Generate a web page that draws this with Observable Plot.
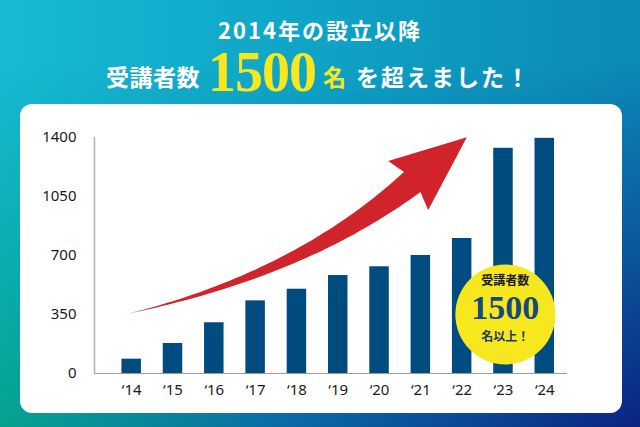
<!DOCTYPE html>
<html>
<head>
<meta charset="utf-8">
<script src="https://cdn.jsdelivr.net/npm/d3@7"></script>
<script src="https://cdn.jsdelivr.net/npm/@observablehq/plot@0.6"></script>
<style>
  html, body { margin: 0; padding: 0; }
  body { width: 640px; height: 427px; overflow: hidden; }
  #page { position: relative; width: 640px; height: 427px; overflow: hidden;
    background: linear-gradient(to right, #17b9d4 0%, #0fa3c6 50%, #0b8ab5 100%); }
  #overlay { position: absolute; inset: 0;
    background: linear-gradient(to right, #05a38f 0%, #0a6aa5 45%, #0b2382 100%);
    -webkit-mask-image: linear-gradient(to bottom, rgba(0,0,0,0) 15%, rgba(0,0,0,1) 100%);
    mask-image: linear-gradient(to bottom, rgba(0,0,0,0) 15%, rgba(0,0,0,1) 100%); }
  .t { position: absolute; white-space: nowrap; line-height: 1; font-weight: 700;
    font-family: "Noto Sans CJK JP", "Noto Sans", sans-serif; }
  #card { position: absolute; left: 20px; top: 104px; width: 602px; height: 309px;
    background: #fff; border-radius: 12px; }
  #chart { position: absolute; left: 20px; top: 104px; }
</style>
</head>
<body>
<div id="page">
  <div id="overlay"></div>
  <div class="t" style="left:0; width:640px; text-align:center; top:18px; font-size:22px; letter-spacing:2px; color:#fff;">2014年の設立以降</div>
  <div class="t" style="left:106px; top:65px; font-size:23px; letter-spacing:0.5px; color:#fff;">受講者数</div>
  <div class="t" style="left:208px; top:44px; font-size:56px; letter-spacing:-1px; color:#f6e71f; font-family:'Liberation Serif', serif;">1500</div>
  <div class="t" style="left:323px; top:65px; font-size:23px; color:#f6e71f;">名</div>
  <div class="t" style="left:356px; top:65px; font-size:23px; letter-spacing:2px; color:#fff;">を超えました！</div>
  <div id="card"></div>
  <div id="chart"></div>
</div>
<script>
// ---- data ----
const years = [2014, 2015, 2016, 2017, 2018, 2019, 2020, 2021, 2022, 2023, 2024];
const students = [85, 178, 301, 431, 500, 581, 633, 700, 801, 1336, 1395];
const yTicks = [0, 350, 700, 1050, 1400];
const xTickLabels = ["‘14", "‘15", "‘16", "‘17", "‘18", "‘19", "‘20", "‘21", "‘22", "‘23", "‘24"];

// decorative arrow, anchor points in data units [year, students]
const arrowTail = [2013.775, 344];
const arrowBend = [2018.011, 572];
const arrowNeck = [2020.802, 1133];
const arrowTip = [2022.126, 1398];
const arrowBarbLeft = [2020.221, 1258];
const arrowBarbRight = [2021.19, 967];
const arrowNeckWidth = 26;

// badge
const badgeYear = 2023.046;
const badgeValue = 350;
const badgeLines = ["受講者数", "1500", "名以上！"];

const bars = years.map((year, i) => ({year, value: students[i]}));
const badge = [{year: badgeYear, value: badgeValue}];

function arrowMark(index, scales) {
  const {x, y} = scales;
  const P = p => [x(p[0]), y(p[1])];
  const p0 = P(arrowTail), p1 = P(arrowBend), p2 = P(arrowNeck);
  const upper = [], lower = [];
  const n = 60;
  for (let k = 0; k <= n; k++) {
    const t = k / n, u = 1 - t;
    const bx = u * u * p0[0] + 2 * u * t * p1[0] + t * t * p2[0];
    const by = u * u * p0[1] + 2 * u * t * p1[1] + t * t * p2[1];
    const dx = 2 * u * (p1[0] - p0[0]) + 2 * t * (p2[0] - p1[0]);
    const dy = 2 * u * (p1[1] - p0[1]) + 2 * t * (p2[1] - p1[1]);
    const len = Math.hypot(dx, dy);
    const nx = dy / len, ny = -dx / len;
    const w = arrowNeckWidth / 2 * Math.pow(t, 1.3);
    upper.push([bx + nx * w, by + ny * w]);
    lower.push([bx - nx * w, by - ny * w]);
  }
  const pts = [...lower, P(arrowBarbRight), P(arrowTip), P(arrowBarbLeft), ...upper.reverse()];
  const g = d3.create("svg:g");
  g.append("path")
    .attr("d", "M" + pts.map(p => p[0].toFixed(2) + "," + p[1].toFixed(2)).join("L") + "Z")
    .attr("fill", "#d0232a");
  return g.node();
}

const chart = Plot.plot({
  width: 600,
  height: 309,
  marginLeft: 74,
  marginRight: 53,
  marginTop: 33,
  marginBottom: 40,
  style: {fontFamily: "'Noto Sans', sans-serif", fontSize: "15px", color: "#1a1a1a", background: "transparent"},
  x: {type: "linear", domain: [2013.1, 2024.55], axis: null},
  y: {domain: [0, 1400], axis: null},
  marks: [
    Plot.axisY(yTicks, {tickSize: 0, tickPadding: 18, label: null, fontSize: 15, tickFormat: d => String(d)}),
    Plot.axisX(years, {tickSize: 0, tickPadding: 11, label: null, fontSize: 15,
      tickFormat: d => xTickLabels[years.indexOf(d)]}),
    Plot.rectY(bars, {x1: d => d.year - 0.236, x2: d => d.year + 0.236, y: "value", fill: "#004b80"}),
    Plot.ruleX([2013.1], {y1: 0, y2: 1400, stroke: "#b3b3b3", strokeWidth: 1.5}),
    Plot.ruleY([0], {stroke: "#9c9c9c", strokeWidth: 1.2}),
    arrowMark,
    Plot.dot(badge, {x: "year", y: "value", r: 50, fill: "#f6e71f", stroke: "none"}),
    Plot.text(badge, {x: "year", y: "value", text: () => badgeLines[0], dy: -33, fontSize: 12,
      fontWeight: 700, fill: "#1a1a1a", fontFamily: "'Noto Sans CJK JP', sans-serif"}),
    Plot.text(badge, {x: "year", y: "value", text: () => badgeLines[1], dy: -6, fontSize: 34,
      fontWeight: 700, fill: "#14497f", fontFamily: "'Liberation Serif', serif", letterSpacing: -0.3}),
    Plot.text(badge, {x: "year", y: "value", text: () => badgeLines[2], dy: 23, fontSize: 12,
      fontWeight: 700, fill: "#1b3a6b", fontFamily: "'Noto Sans CJK JP', sans-serif"})
  ]
});
document.getElementById("chart").appendChild(chart);
</script>
</body>
</html>
